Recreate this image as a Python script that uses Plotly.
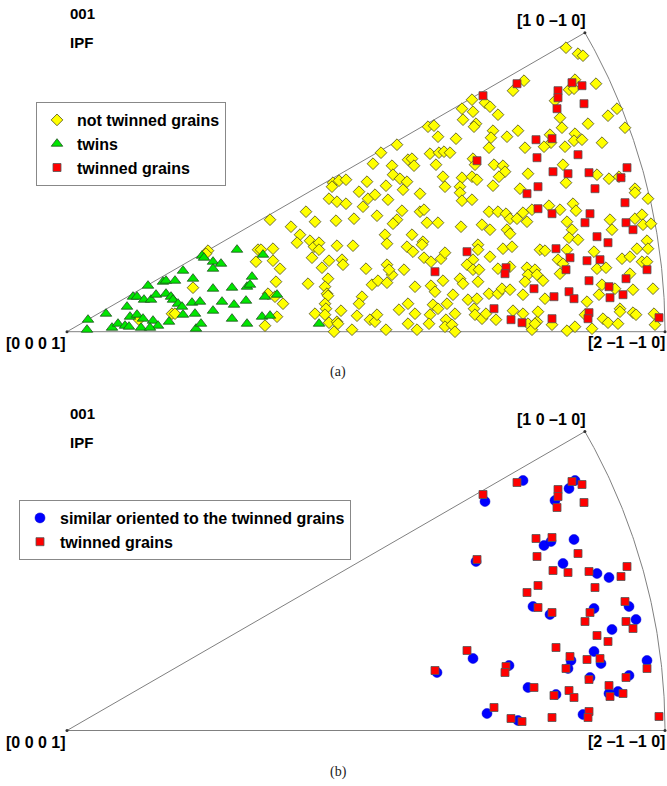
import numpy as np
import plotly.graph_objects as go

# Projection coordinates of the inverse pole figure (apex [0 0 0 1] at origin,
# sector radius = 598 units, [2 -1 -1 0] along +x, [1 0 -1 0] at 30 deg)
R = 598.0

# ---- panel (a): not twinned grains ----
nt_x = [141, 139, 126, 105, 108, 72,
        203, 224, 239, 248, 233, 230, 243, 247, 252, 252, 245, 255, 262, 270, 286, 275, 276, 266, 265, 272,
        279, 262, 270, 279, 269, 287, 300, 292, 301, 308, 296, 306, 314, 319, 321, 310, 325, 326, 333, 336,
        340, 341, 345, 347, 335, 330, 326, 318, 320, 345, 340, 346, 320, 325, 322, 337, 299, 305, 311, 320,
        348, 295, 292, 261, 258, 260, 261, 258, 259, 274, 248, 258, 262, 270, 271, 267, 285, 290, 303, 308,
        310, 319, 332, 341, 341, 348, 350, 241, 206, 191, 194, 189, 206, 213, 209, 201, 208, 216, 210, 198,
        330,
        457, 446, 405, 395, 418, 423, 406, 431, 396, 409, 407, 361, 367, 371, 389, 426, 424, 440, 451, 422,
        458, 363, 372, 377, 383, 406, 408, 369, 427, 436, 438, 432, 461, 376, 395, 405, 410, 378, 393, 426, 453,
        353, 393, 395, 405, 353, 357, 360, 371, 394, 415, 423, 422, 431, 439, 443, 450, 456, 460, 440, 443,
        356, 355, 357, 364, 374, 378, 411, 411, 406, 423, 436, 445, 400, 406, 412, 431, 443, 460, 461, 468,
        393, 396, 411, 458, 376, 364, 368, 386, 401, 410, 422, 431, 435, 443, 456, 366, 371, 380, 363, 362,
        379, 378, 385, 388, 388, 407, 408, 415, 419, 429, 446, 456, 461, 465, 470, 471,
        499, 511, 516, 529, 502, 507, 508, 488, 493, 495, 521, 541, 550, 558, 483, 484, 477, 498, 508, 507,
        515, 535, 496, 530, 542, 552, 499, 568,
        568, 581, 482, 493, 506, 509, 465, 500, 505, 502, 511, 543, 545, 568, 575, 576, 584, 580, 570, 581,
        473, 478, 500, 527, 555, 563, 575, 580, 491, 496, 470, 493, 530, 539, 476, 563, 586, 566, 535, 548,
        532, 478, 520, 553, 566, 569, 468, 485, 500, 508, 518, 525, 536, 541, 551, 553, 587, 588]
nt_y = [81, 78, 44, 18, 18, 12,
        112, 105, 120, 110, 97, 89, 91, 85, 89, 82, 74, 64, 71, 86, 86, 72, 67, 149, 145, 151,
        152, 133, 130, 128, 111, 113, 150, 140, 133, 137, 125, 168, 179, 146, 132, 116, 166, 157, 153, 142,
        150, 172, 173, 166, 121, 112, 108, 97, 88, 97, 85, 80, 67, 57, 62, 62, 63, 47, 51, 49,
        45, 35, 28, 53, 45, 38, 36, 28, 23, 21, 18, 17, 9, 10, 8, 0, 2, 16, 12, 10,
        17, 2, 22, 28, 8, 18, 2, 48, 83, 82, 82, 70, 71, 63, 50, 38, 35, 28, 15, 6,
        187,
        251, 241, 232, 223, 229, 225, 220, 217, 212, 208, 205, 205, 206, 195, 193, 201, 194, 195, 201, 184,
        184, 178, 179, 180, 179, 173, 167, 167, 167, 166, 160, 155, 158, 155, 154, 155, 152, 145, 145, 146, 143,
        138, 139, 131, 132, 120, 122, 109, 109, 105, 107, 102, 120, 120, 118, 113, 113, 119, 110, 102, 98,
        90, 87, 74, 70, 73, 79, 87, 82, 72, 75, 83, 85, 67, 62, 62, 63, 65, 64, 57, 62,
        53, 48, 50, 50, 51, 46, 40, 37, 32, 33, 38, 38, 43, 42, 37, 27, 23, 28, 17, 8,
        12, 5, 7, 18, 0, 23, 17, 13, 18, 12, 21, 18, 8, 2, 10, 20,
        284, 278, 276, 248, 242, 243, 252, 231, 214, 204, 208, 216, 223, 204, 197, 189, 185, 185, 198, 191,
        192, 189, 167, 157, 153, 155, 149, 143,
        139, 133, 126, 122, 128, 121, 122, 110, 102, 94, 92, 112, 102, 113, 117, 107, 108, 91, 83, 83,
        82, 81, 82, 80, 73, 75, 70, 70, 72, 68, 57, 58, 63, 64, 51, 58, 43, 42, 47, 43,
        37, 33, 30, 23, 19, 17, 8, 7, 1, 5, 17, 3, 13, 9, 8, 20, 18, 7]

# ---- panel (a): twins ----
tw_x = [21, 20, 39, 45, 51, 58, 62, 60, 63, 66, 70, 70, 76, 74, 77, 81, 84, 89, 86, 91, 83, 96, 99, 108,
        116, 99, 104, 106, 111, 115, 102, 116, 125, 133, 128, 129, 134, 126, 135, 137, 146, 154, 146, 146,
        146, 155, 165, 167, 165, 170, 180, 183, 185, 179, 196, 198, 210, 195, 203, 180, 252]
tw_y = [12, 2, 18, 4, 8, 6, 5, 25, 15, 35, 35, 17, 13, 4, 32, 46, 32, 37, 11, 6, 4, 50, 51, 51,
        61, 38, 35, 32, 28, 25, 10, 17, 29, 30, 18, 3, 8, 53, 76, 74, 70, 68, 63, 43,
        21, 30, 44, 27, 13, 82, 45, 47, 55, 31, 77, 35, 37, 15, 16, 8, 8]

# ---- twinned grains (same grains in both panels) ----
tg_x = [450, 416, 410, 460, 471, 400, 368, 439, 438, 467, 427, 444, 455, 505, 515, 491, 491, 490, 517,
        469, 485, 470, 511, 486, 501, 522, 560, 554, 471, 528, 485, 523, 518, 558, 559, 566, 530, 541,
        489, 503, 520, 533, 499, 580, 559, 522, 542, 543, 556, 502, 507, 487, 522, 521, 485, 592]
tg_y = [248, 236, 171, 138, 123, 80, 60, 64, 58, 43, 23, 12, 9, 249, 246, 241, 234, 223, 228,
        192, 193, 174, 177, 160, 158, 159, 164, 154, 145, 143, 118, 118, 109, 129, 109, 102, 95, 89,
        83, 74, 71, 72, 62, 62, 53, 51, 45, 34, 37, 40, 33, 35, 19, 13, 13, 14]

# ---- panel (b): grains similarly oriented to the twinned grains ----
so_x = [456, 418, 508, 502, 488, 507, 477, 484, 409, 496, 530, 542, 466, 483, 527, 562, 569, 545,
        527, 406, 442, 504, 534, 580, 501, 370, 562, 523, 461, 489, 542, 551, 420, 451, 516]
so_y = [250, 229, 250, 242, 230, 191, 185, 189, 169, 167, 157, 153, 124, 116, 122, 124, 111, 101,
        79, 72, 65, 70, 67, 70, 62, 58, 55, 53, 43, 36, 37, 39, 17, 10, 16]

corner_labels = ["[0 0 0 1]", "[2 \u20131 \u20131 0]", "[1 0 \u20131 0]"]

FONT = "Liberation Sans, Arial, sans-serif"
W, H = 667, 786

fig = go.Figure()

# sector outline
th = np.linspace(0, np.pi / 6, 120)
sx = np.concatenate([[0.0], R * np.cos(th), [0.0]])
sy = np.concatenate([[0.0], R * np.sin(th), [0.0]])
cx = [0.0, R, R * np.cos(np.pi / 6)]
cy = [0.0, 0.0, R * np.sin(np.pi / 6)]

for ax in ("", "2"):
    fig.add_trace(go.Scatter(x=sx, y=sy, mode="lines", line=dict(color="#808080", width=1),
                             hoverinfo="skip", showlegend=False, xaxis="x" + ax, yaxis="y" + ax))
    fig.add_trace(go.Scatter(x=cx, y=cy, mode="markers",
                             marker=dict(symbol="circle", size=3, color="#333333"),
                             hoverinfo="skip", showlegend=False, xaxis="x" + ax, yaxis="y" + ax))

# panel (a)
fig.add_trace(go.Scatter(x=nt_x, y=nt_y, mode="markers", name="not twinned grains",
                         marker=dict(symbol="diamond", size=9, color="#FFFF00",
                                     line=dict(color="#4a4a20", width=0.8)),
                         xaxis="x", yaxis="y", legend="legend"))
fig.add_trace(go.Scatter(x=tw_x, y=tw_y, mode="markers", name="twins",
                         marker=dict(symbol="triangle-up", size=10, color="#00E600",
                                     line=dict(color="#205020", width=0.8)),
                         xaxis="x", yaxis="y", legend="legend"))
fig.add_trace(go.Scatter(x=tg_x, y=tg_y, mode="markers", name="twinned grains",
                         marker=dict(symbol="square", size=8, color="#FF0000",
                                     line=dict(color="#555555", width=0.8)),
                         xaxis="x", yaxis="y", legend="legend"))

# panel (b)
fig.add_trace(go.Scatter(x=so_x, y=so_y, mode="markers", name="similar oriented to the twinned grains",
                         marker=dict(symbol="circle", size=10, color="#0000FF",
                                     line=dict(color="#0000CC", width=0.5)),
                         xaxis="x2", yaxis="y2", legend="legend2"))
fig.add_trace(go.Scatter(x=tg_x, y=tg_y, mode="markers", name="twinned grains",
                         marker=dict(symbol="square", size=8, color="#FF0000",
                                     line=dict(color="#555555", width=0.8)),
                         xaxis="x2", yaxis="y2", legend="legend2"))

annotations = []
for ax in ("", "2"):
    xr, yr = "x" + ax, "y" + ax
    annotations.append(dict(x=-31, y=-12, xref=xr, yref=yr, text=corner_labels[0], showarrow=False,
                            font=dict(family=FONT, size=16, color="black", weight="bold"),
                            xanchor="center", yanchor="middle"))
    annotations.append(dict(x=R - 39, y=-11, xref=xr, yref=yr, text=corner_labels[1], showarrow=False,
                            font=dict(family=FONT, size=16, color="black", weight="bold"),
                            xanchor="center", yanchor="middle"))
    annotations.append(dict(x=cx[2] - 34, y=cy[2] + 12, xref=xr, yref=yr, text=corner_labels[2],
                            showarrow=False,
                            font=dict(family=FONT, size=16, color="black", weight="bold"),
                            xanchor="center", yanchor="middle"))

for off, cap, capy in ((0, "(a)", 372), (399, "(b)", 772)):
    annotations.append(dict(x=68 / W, y=1 - (14 + off) / H, xref="paper", yref="paper", text="001",
                            showarrow=False, xanchor="left", yanchor="middle",
                            font=dict(family=FONT, size=15, color="black", weight="bold")))
    annotations.append(dict(x=68 / W, y=1 - (43 + off) / H, xref="paper", yref="paper", text="IPF",
                            showarrow=False, xanchor="left", yanchor="middle",
                            font=dict(family=FONT, size=15, color="black", weight="bold")))
    annotations.append(dict(x=338 / W, y=1 - capy / H, xref="paper", yref="paper", text=cap,
                            showarrow=False, xanchor="center", yanchor="middle",
                            font=dict(family="Liberation Serif, DejaVu Serif, serif", size=14, color="#222")))

leg_common = dict(xref="paper", yref="paper", xanchor="left", yanchor="top",
                  bgcolor="white", bordercolor="#888888", borderwidth=1,
                  font=dict(family=FONT, size=16, color="black", weight="bold"))

fig.update_layout(
    width=W, height=H, autosize=False,
    margin=dict(l=0, r=0, t=0, b=0),
    paper_bgcolor="white", plot_bgcolor="white",
    xaxis=dict(domain=[0, 1], range=[-67, 600], visible=False, anchor="y"),
    yaxis=dict(domain=[0.5, 1], range=[-61.3, 331.7], visible=False, anchor="x"),
    xaxis2=dict(domain=[0, 1], range=[-67, 600], visible=False, anchor="y2"),
    yaxis2=dict(domain=[0, 0.5], range=[-55.5, 337.5], visible=False, anchor="x2"),
    legend=dict(x=36 / W, y=1 - 102 / H, **leg_common),
    legend2=dict(x=19 / W, y=1 - 500 / H, **leg_common),
    annotations=annotations,
    showlegend=True,
)

fig.write_html("out.html", config={"displayModeBar": False},
               post_script="document.body.style.margin='0';document.body.style.overflow='hidden';")
